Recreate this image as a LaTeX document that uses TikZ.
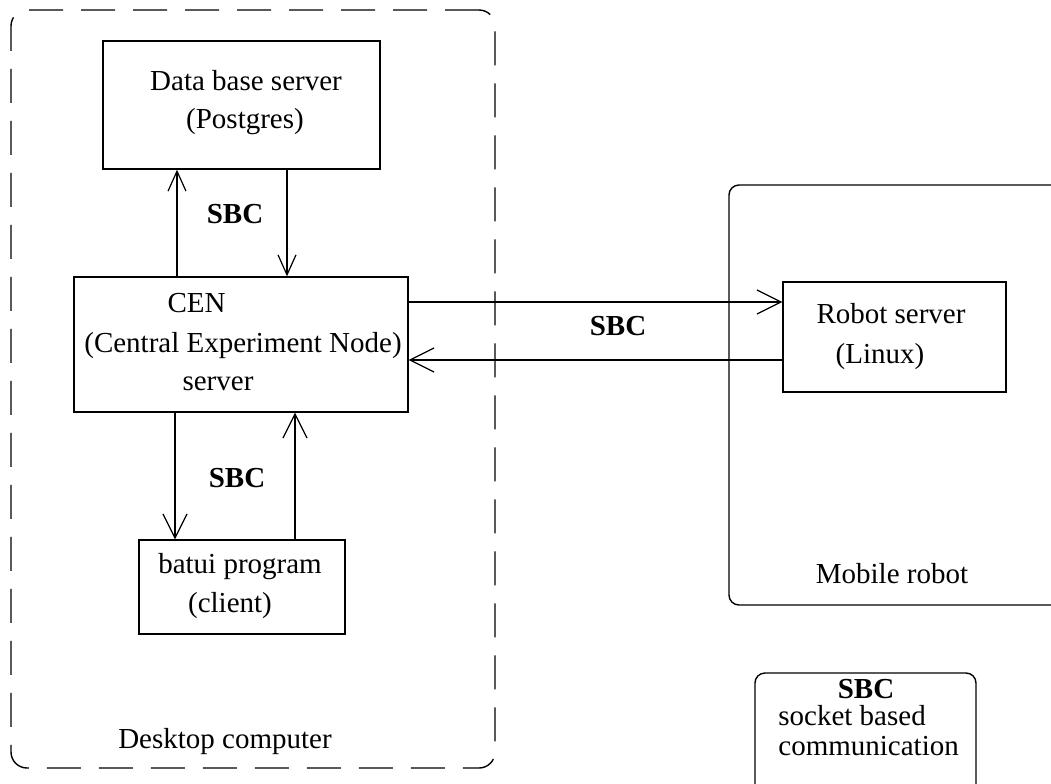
\documentclass[tikz,border=0pt]{standalone}
\usepackage{fontspec}
\setmainfont{Liberation Serif}
\usetikzlibrary{arrows.meta}
\begin{document}
\begin{tikzpicture}[x=0.5pt,y=-0.5pt,
  box/.style={draw, line width=0.7pt, rectangle, inner sep=0pt},
  rbox/.style={draw, line width=0.7pt, rectangle, rounded corners=5pt, inner sep=0pt},
  dbox/.style={draw, line width=0.7pt, rectangle, rounded corners=8pt, inner sep=0pt, dash pattern=on 17pt off 9pt},
  txt/.style={anchor=base, inner sep=0pt, font=\fontsize{14.5}{17}\selectfont},
  btxt/.style={txt, font=\fontsize{14.5}{17}\selectfont\bfseries},
  conn/.style={line width=0.65pt},
  arr/.style={conn, -{Straight Barb[length=12pt, width=12pt, line width=0.6pt]}},
  sarr/.style={conn, -{Straight Barb[length=10pt, width=9pt, line width=0.6pt]}}]
\clip (0,0) rectangle (1051,783);
\fill[white] (0,0) rectangle (1051,783);
% containers
\node[dbox, minimum width=242pt, minimum height=379pt] (desk) at (253,389) {};
\node[rbox, minimum width=175.5pt, minimum height=210pt] (mob) at (904.5,395) {};
\node[rbox, minimum width=110.5pt, minimum height=63.5pt] (leg) at (865.5,736.5) {};
% boxes
\node[box, minimum width=138.5pt, minimum height=64pt] (db) at (241.5,105) {};
\node[box, minimum width=167pt, minimum height=67.5pt] (cen) at (241,344.5) {};
\node[box, minimum width=103pt, minimum height=47pt] (bat) at (242,587) {};
\node[box, minimum width=111.5pt, minimum height=55pt] (rs) at (894.5,337) {};
% texts
\node[txt] (t1) at (246,90) {Data base server};
\node[txt] (t2) at (245,128) {(Postgres)};
\node[txt] (t3) at (196.5,312) {CEN};
\node[txt] (t4) at (243,352) {(Central Experiment Node)};
\node[txt] (t5) at (218,390) {server};
\node[txt] (t6) at (240,573) {batui program};
\node[txt] (t7) at (230,612) {(client)};
\node[txt] (t8) at (225,748) {Desktop computer};
\node[txt] (t9) at (891,323) {Robot server};
\node[txt] (t10) at (880,363) {(Linux)};
\node[txt] (t11) at (892,583) {Mobile robot};
\node[btxt] (s1) at (235,223) {SBC};
\node[btxt] (s2) at (237,487) {SBC};
\node[btxt] (s3) at (618,335) {SBC};
\node[btxt] (s4) at (866,698) {SBC};
\node[txt, anchor=base west] (l1) at (778,725) {socket based};
\node[txt, anchor=base west] (l2) at (778,755) {communication};
% connectors
\coordinate (xa) at (177,0);
\coordinate (xb) at (287,0);
\coordinate (xc) at (175,0);
\coordinate (xd) at (295,0);
\coordinate (ya) at (0,302);
\coordinate (yb) at (0,360);
\draw[sarr] (cen.north -| xa) -- (db.south -| xa);
\draw[sarr] (db.south -| xb) -- (cen.north -| xb);
\draw[arr] (cen.south -| xc) -- (bat.north -| xc);
\draw[arr] (bat.north -| xd) -- (cen.south -| xd);
\draw[arr] (cen.east |- ya) -- (rs.west |- ya);
\draw[arr] (rs.west |- yb) -- (cen.east |- yb);
\end{tikzpicture}
\end{document}
